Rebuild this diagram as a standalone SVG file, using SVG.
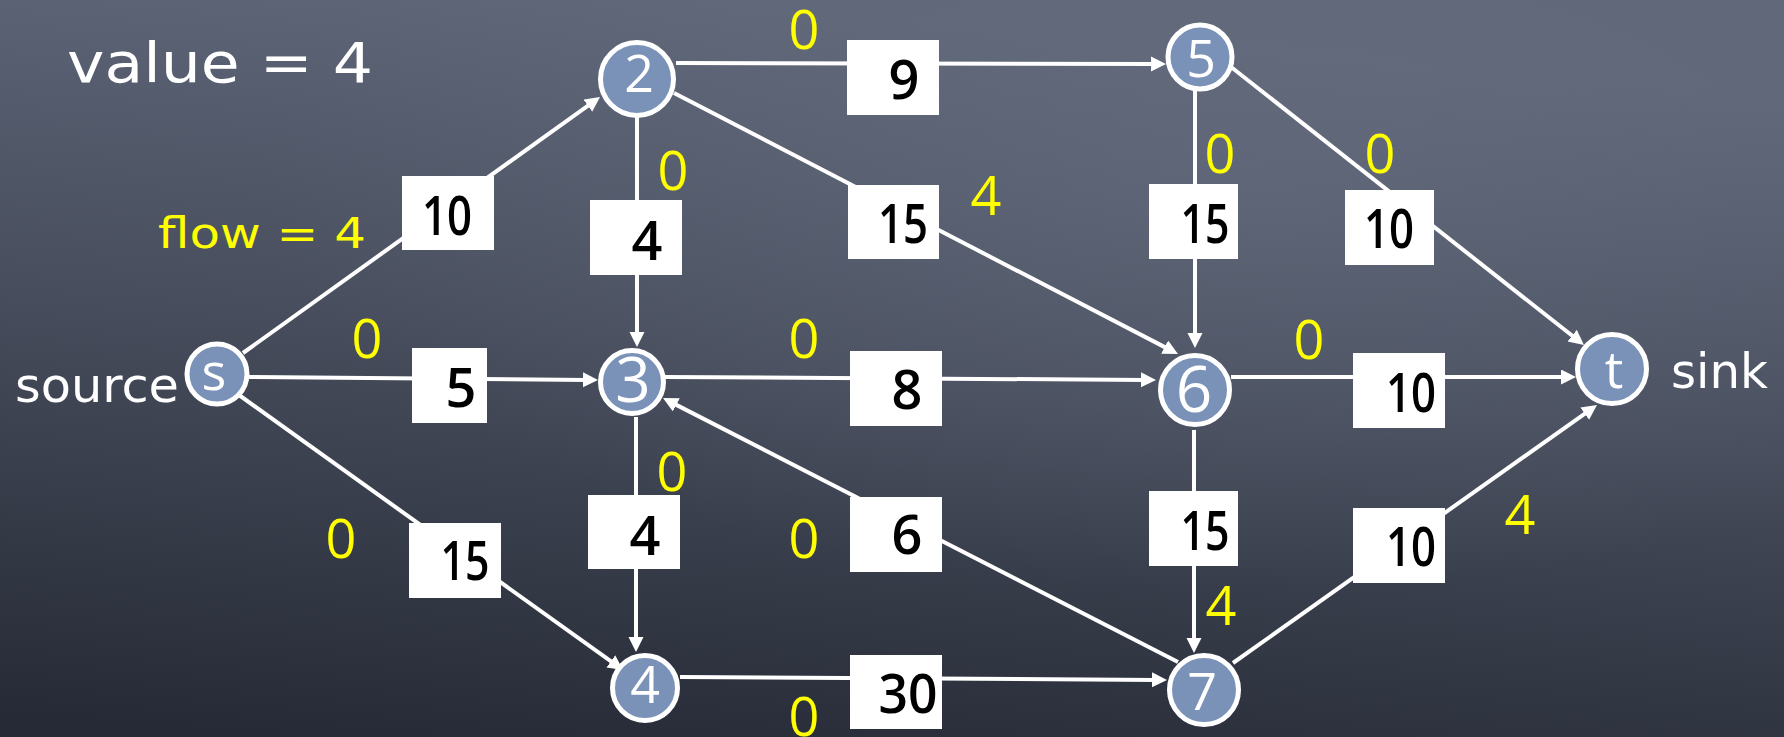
<svg xmlns="http://www.w3.org/2000/svg" width="1784" height="737" viewBox="0 0 1784 737">
  <defs>
    <linearGradient id="bg" x1="0.35" y1="0" x2="0.15" y2="1">
      <stop offset="0" stop-color="#5e6678"/>
      <stop offset="0.45" stop-color="#474d5c"/>
      <stop offset="1" stop-color="#262a36"/>
    </linearGradient>
    <radialGradient id="glow" cx="0.7" cy="0.25" r="0.55">
      <stop offset="0" stop-color="#6a7284" stop-opacity="0.45"/>
      <stop offset="1" stop-color="#6a7284" stop-opacity="0"/>
    </radialGradient>
    <marker id="arrow" markerUnits="userSpaceOnUse" markerWidth="16" markerHeight="16" refX="5" refY="7.5" orient="auto">
      <path d="M0,0 L15,7.5 L0,15 z" fill="#ffffff"/>
    </marker>
  </defs>
  <style>
    .edge { stroke: #ffffff; stroke-width: 4; fill: none; marker-end: url(#arrow); }
    .box { fill: #ffffff; }
    .cap { font-family: "Open Sans", "DejaVu Sans", sans-serif; font-size: 54px; font-weight: 600; fill: #000000; text-anchor: middle; }
    .flow { font-family: "Open Sans", "DejaVu Sans", sans-serif; font-size: 54px; fill: #ffff00; text-anchor: middle; }
    .node circle { fill: #7a92b7; stroke: #ffffff; stroke-width: 5; }
    .node text { font-family: "Open Sans", "DejaVu Sans", sans-serif; font-size: 52px; fill: #ffffff; text-anchor: middle; }
    .label { font-family: "DejaVu Sans", "Open Sans", sans-serif; fill: #ffffff; }
  </style>

  <rect x="0" y="0" width="1784" height="737" fill="url(#bg)"/>
  <rect x="0" y="0" width="1784" height="737" fill="url(#glow)"/>

  <text class="label" x="67" y="82" font-size="56" textLength="306" lengthAdjust="spacingAndGlyphs">value = 4</text>
  <text class="label" x="158" y="248" font-size="42" style="fill:#ffff00" textLength="208" lengthAdjust="spacingAndGlyphs">flow = 4</text>
  <text class="label" x="15" y="402" font-size="48" textLength="164" lengthAdjust="spacingAndGlyphs">source</text>
  <text class="label" x="1671" y="388" font-size="48" textLength="97" lengthAdjust="spacingAndGlyphs">sink</text>

  <g id="connectors">
    <g id="e-s-2">
      <line class="edge" x1="243" y1="353" x2="591.9" y2="102.8"/>
      <rect class="box" x="402" y="176" width="92" height="74"/>
      <text class="cap" x="447" y="235" textLength="50" lengthAdjust="spacingAndGlyphs">10</text>
    </g>
    <g id="e-s-3">
      <line class="edge" x1="245" y1="377" x2="588" y2="379.9"/>
      <rect class="box" x="412" y="348" width="75" height="75"/>
      <text class="cap" x="461" y="407">5</text>
      <text class="flow" x="367" y="358">0</text>
    </g>
    <g id="e-s-4">
      <line class="edge" x1="239" y1="395" x2="614.9" y2="664.2"/>
      <rect class="box" x="409" y="523" width="92" height="75"/>
      <text class="cap" x="465" y="580" textLength="49" lengthAdjust="spacingAndGlyphs">15</text>
      <text class="flow" x="341" y="558">0</text>
    </g>
    <g id="e-2-5">
      <line class="edge" x1="676" y1="63" x2="1156" y2="64"/>
      <rect class="box" x="847" y="40" width="92" height="75"/>
      <text class="cap" x="904" y="99">9</text>
      <text class="flow" x="804" y="49">0</text>
    </g>
    <g id="e-2-3">
      <line class="edge" x1="637" y1="117" x2="637" y2="337"/>
      <rect class="box" x="590" y="200" width="92" height="75"/>
      <text class="cap" x="647" y="260">4</text>
      <text class="flow" x="673" y="190">0</text>
    </g>
    <g id="e-2-6">
      <line class="edge" x1="674" y1="93" x2="1169.1" y2="349.4"/>
      <rect class="box" x="848" y="185" width="91" height="74"/>
      <text class="cap" x="903" y="243" textLength="50" lengthAdjust="spacingAndGlyphs">15</text>
      <text class="flow" x="986" y="215">4</text>
    </g>
    <g id="e-3-6">
      <line class="edge" x1="665" y1="377" x2="1146" y2="379.9"/>
      <rect class="box" x="850" y="351" width="92" height="75"/>
      <text class="cap" x="907" y="409">8</text>
      <text class="flow" x="804" y="358">0</text>
    </g>
    <g id="e-3-4">
      <line class="edge" x1="636" y1="417" x2="636" y2="642"/>
      <rect class="box" x="588" y="495" width="92" height="74"/>
      <text class="cap" x="645" y="555">4</text>
      <text class="flow" x="672" y="491">0</text>
    </g>
    <g id="e-7-3">
      <line class="edge" x1="1178" y1="662" x2="671.9" y2="402.6"/>
      <rect class="box" x="850" y="497" width="92" height="75"/>
      <text class="cap" x="907" y="554">6</text>
      <text class="flow" x="804" y="558">0</text>
    </g>
    <g id="e-4-7">
      <line class="edge" x1="680" y1="677" x2="1157" y2="679.9"/>
      <rect class="box" x="850" y="655" width="92" height="74"/>
      <text class="cap" x="908" y="713" textLength="59" lengthAdjust="spacingAndGlyphs">30</text>
      <text class="flow" x="804" y="736">0</text>
    </g>
    <g id="e-5-6">
      <line class="edge" x1="1195" y1="91" x2="1195" y2="338"/>
      <rect class="box" x="1149" y="184" width="89" height="75"/>
      <text class="cap" x="1205" y="243" textLength="49" lengthAdjust="spacingAndGlyphs">15</text>
      <text class="flow" x="1220" y="173">0</text>
    </g>
    <g id="e-5-t">
      <line class="edge" x1="1226" y1="63" x2="1576.1" y2="338.8"/>
      <rect class="box" x="1345" y="190" width="89" height="75"/>
      <text class="cap" x="1389" y="248" textLength="50" lengthAdjust="spacingAndGlyphs">10</text>
      <text class="flow" x="1380" y="173">0</text>
    </g>
    <g id="e-6-t">
      <line class="edge" x1="1231" y1="377" x2="1566" y2="377"/>
      <rect class="box" x="1353" y="353" width="92" height="75"/>
      <text class="cap" x="1411" y="412" textLength="50" lengthAdjust="spacingAndGlyphs">10</text>
      <text class="flow" x="1309" y="359">0</text>
    </g>
    <g id="e-6-7">
      <line class="edge" x1="1194" y1="430" x2="1194" y2="643"/>
      <rect class="box" x="1149" y="491" width="89" height="75"/>
      <text class="cap" x="1205" y="550" textLength="49" lengthAdjust="spacingAndGlyphs">15</text>
      <text class="flow" x="1221" y="625">4</text>
    </g>
    <g id="e-7-t">
      <line class="edge" x1="1233" y1="663" x2="1588.8" y2="410.8"/>
      <rect class="box" x="1353" y="508" width="92" height="75"/>
      <text class="cap" x="1411" y="566" textLength="50" lengthAdjust="spacingAndGlyphs">10</text>
      <text class="flow" x="1520" y="534">4</text>
    </g>
  </g>

  <g id="node-s" class="node">
    <circle cx="217" cy="374" r="30"/>
    <text x="214" y="390">s</text>
  </g>
  <g id="node-2" class="node">
    <circle cx="637" cy="79" r="36.5"/>
    <text x="639" y="92">2</text>
  </g>
  <g id="node-3" class="node">
    <circle cx="632" cy="382" r="31.5"/>
    <text x="633" y="402" style="font-size:62px">3</text>
  </g>
  <g id="node-4" class="node">
    <circle cx="645" cy="688" r="32.5"/>
    <text x="645" y="703">4</text>
  </g>
  <g id="node-5" class="node">
    <circle cx="1200" cy="57" r="32"/>
    <text x="1201" y="77">5</text>
  </g>
  <g id="node-6" class="node">
    <circle cx="1195" cy="390" r="34.5"/>
    <text x="1194" y="412" style="font-size:64px">6</text>
  </g>
  <g id="node-7" class="node">
    <circle cx="1204" cy="690" r="34.5"/>
    <text x="1202" y="710">7</text>
  </g>
  <g id="node-t" class="node">
    <circle cx="1612" cy="369" r="34.5"/>
    <text x="1614" y="388">t</text>
  </g>
</svg>
